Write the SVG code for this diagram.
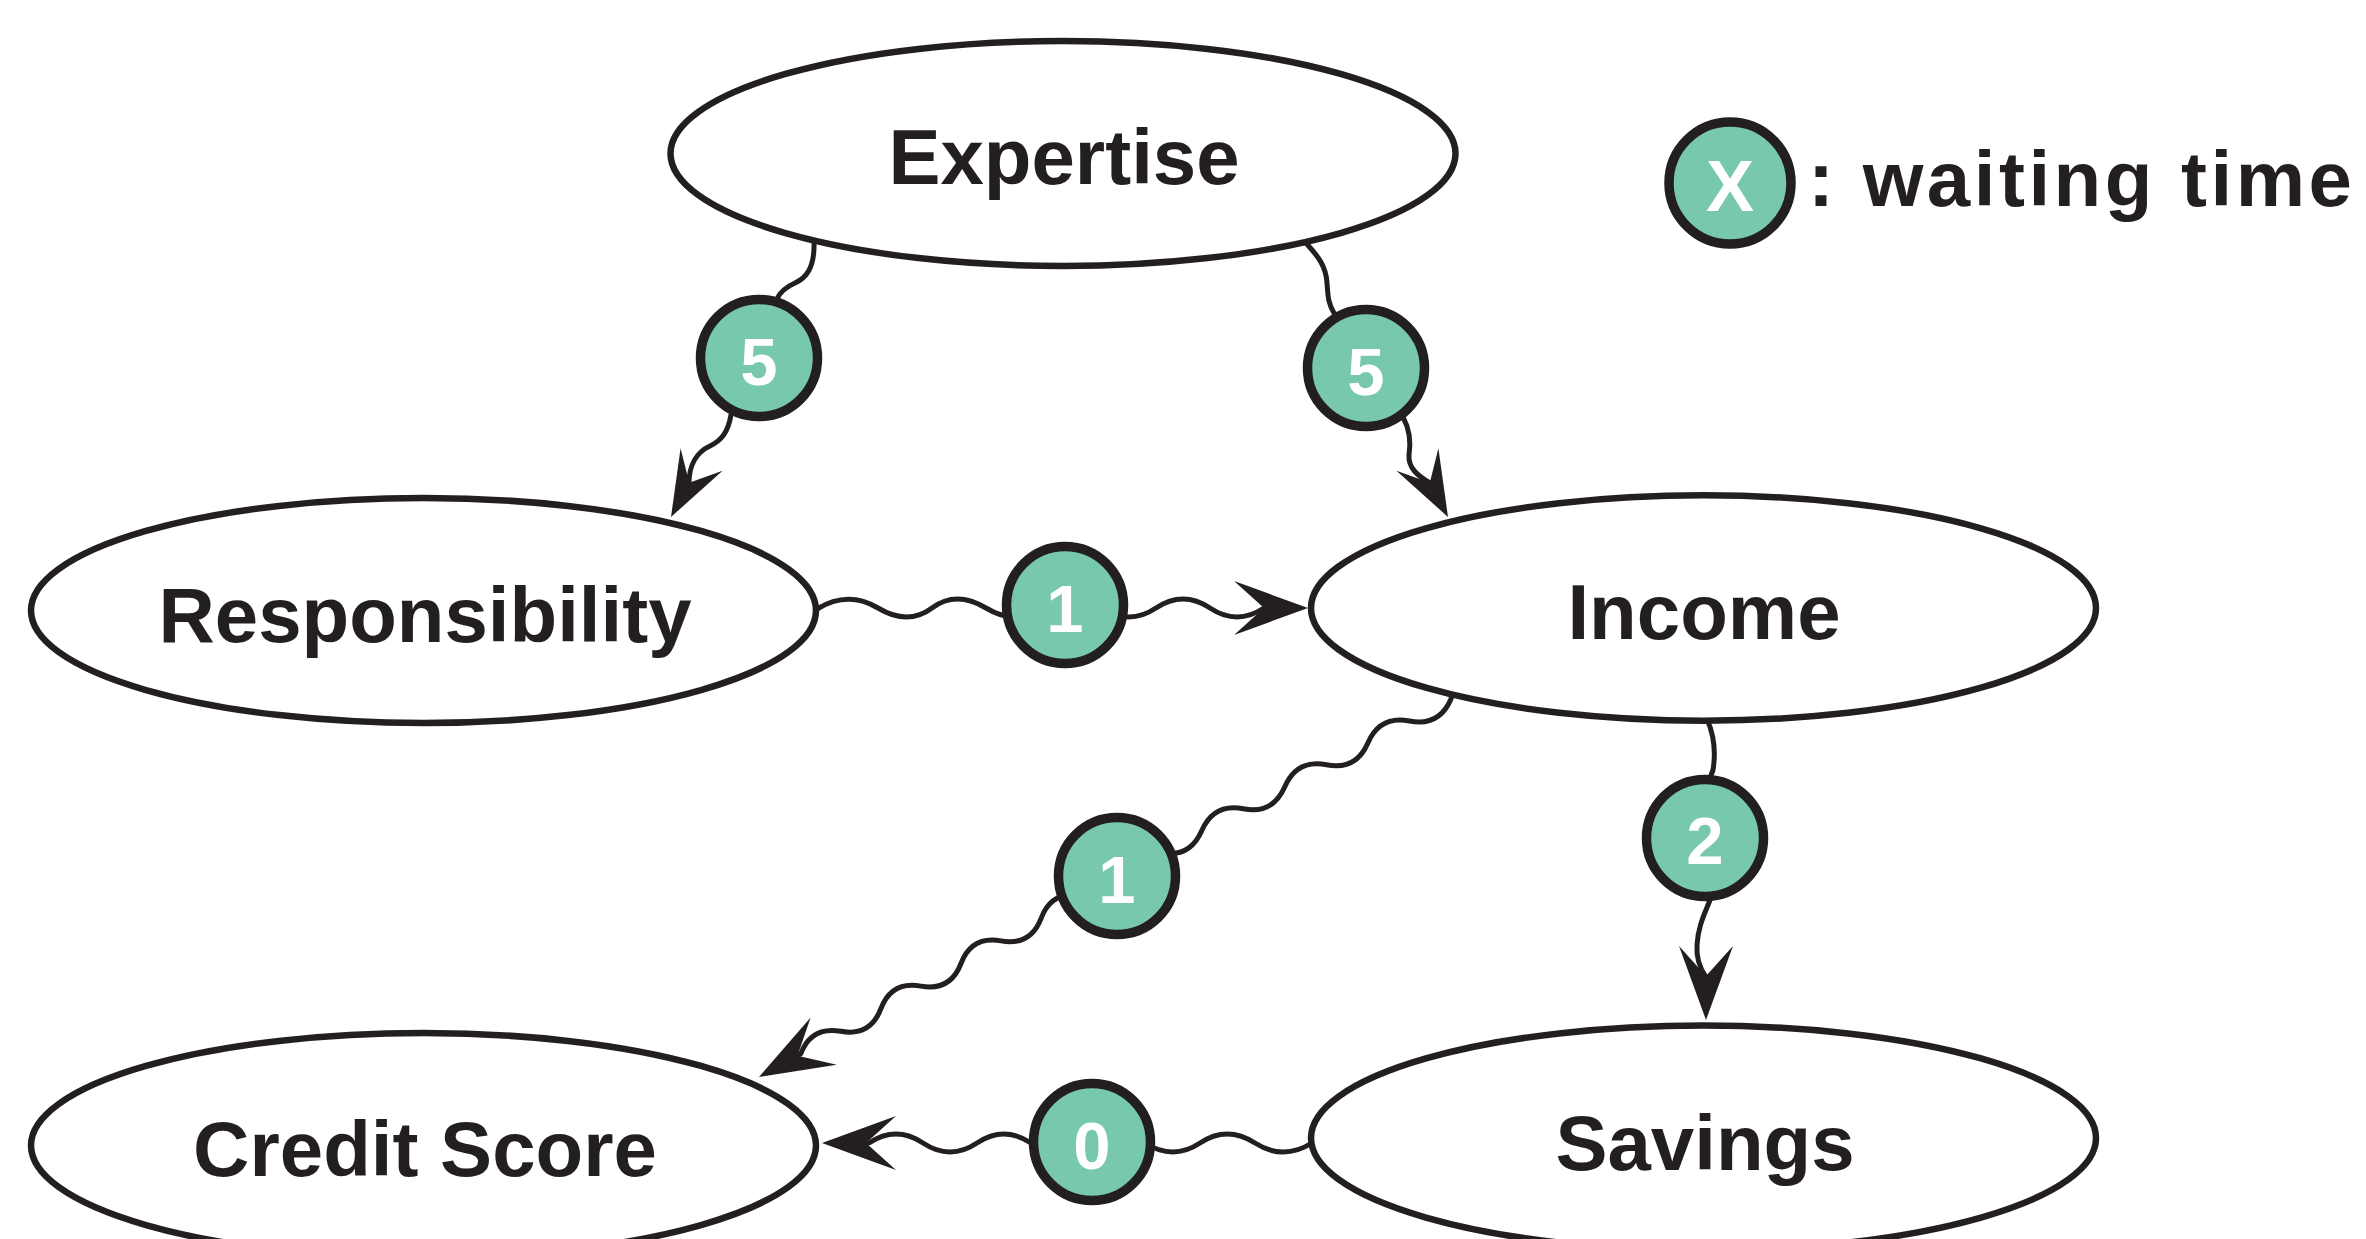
<svg xmlns="http://www.w3.org/2000/svg" xmlns:xlink="http://www.w3.org/1999/xlink" width="2366" height="1239" viewBox="0 0 2366 1239">
<style>
.node ellipse{fill:#ffffff;stroke:#231f20;stroke-width:6.5}
.lbl{font-family:"Liberation Sans",Arial,sans-serif;font-weight:bold;font-size:78px;fill:#231f20;text-anchor:middle}
.wt circle{fill:#77c8ae;stroke:#231f20;stroke-width:9.5}
.num{font-family:"Liberation Sans",Arial,sans-serif;font-weight:bold;font-size:67px;fill:#ffffff;text-anchor:middle}
.edge{fill:none;stroke:#231f20;stroke-width:5;stroke-linecap:round;stroke-linejoin:round}
.head{fill:#231f20}
</style>
<defs>
<path id="ah" d="M0 0 L-74 -27 L-44 0 L-74 27 Z"/>
</defs>
<rect width="2366" height="1239" fill="#ffffff"/>

<g id="connectors">
  <!-- Expertise -> 5 -> Responsibility -->
  <path class="edge" d="M814 241 C815 268 806 278 795 283 C786 287 780 292 777 299"/>
  <path class="edge" d="M731 415 C728 432 722 440 710 446 C697 452 689 465 689 483"/>
  <use href="#ah" class="head" transform="translate(671 517) rotate(118) scale(0.88)"/>
  <!-- Expertise -> 5 -> Income -->
  <path class="edge" d="M1305 242 C1318 256 1326 266 1327 283 C1328 296 1328 303 1334 313"/>
  <path class="edge" d="M1403 417 C1410 430 1411 442 1409 455 C1408 468 1418 476 1430 483"/>
  <use href="#ah" class="head" transform="translate(1448 517) rotate(62) scale(0.88)"/>
  <!-- Responsibility -> 1 -> Income -->
  <path class="edge" d="M817 609 Q848 590 878 608 T932 608 T986 608 T1040 608"/>
  <path class="edge" d="M1102 608 Q1129 626 1156 608 T1210 608 T1264 608"/>
  <use href="#ah" class="head" transform="translate(1308 608)"/>
  <!-- Income -> 2 -> Savings -->
  <path class="edge" d="M1707 719 C1714 735 1716 752 1713 770 L1710 778"/>
  <path class="edge" d="M1710 900 C1705 913 1698 926 1697 945 C1696 960 1701 970 1706 977"/>
  <use href="#ah" class="head" transform="translate(1706 1020) rotate(90)"/>
  <!-- Income -> 1 -> Credit Score -->
  <path class="edge" d="M1452 695 L1451 699 Q1439.1 726.8 1409.5 721 T1367.9 742.9 T1326.4 764.8 T1284.8 786.8 T1243.3 808.7 T1201.7 830.7 T1160.2 852.6 T1118.6 874.6"/>
  <path class="edge" d="M1081.2 895.7 Q1051.8 890.4 1041.1 918.3 T1001 940.9 T961 963.5 T920.9 986.1 T880.9 1008.7 T840.8 1031.3 T800.7 1053.9 L797 1056"/>
  <use href="#ah" class="head" transform="translate(759 1077) rotate(151)"/>
  <!-- Savings -> 0 -> Credit Score -->
  <path class="edge" d="M1312 1143 Q1283 1161 1255 1143 T1200 1143 T1145 1143"/>
  <path class="edge" d="M1031 1143 Q1004 1125 977 1143 T923 1143 T869 1143 L866 1143"/>
  <use href="#ah" class="head" transform="translate(822 1143) rotate(180)"/>
</g>

<g id="node-expertise" class="node">
  <ellipse cx="1063" cy="153.5" rx="392.5" ry="112.5"/>
  <text class="lbl" x="1064" y="184">Expertise</text>
</g>
<g id="node-responsibility" class="node">
  <ellipse cx="423.5" cy="610.5" rx="392.5" ry="112.5"/>
  <text class="lbl" x="425" y="642">Responsibility</text>
</g>
<g id="node-income" class="node">
  <ellipse cx="1703.5" cy="608" rx="392.5" ry="112.75"/>
  <text class="lbl" x="1704" y="639">Income</text>
</g>
<g id="node-credit-score" class="node">
  <ellipse cx="423.5" cy="1145.5" rx="392.5" ry="112.5"/>
  <text class="lbl" x="425" y="1176">Credit Score</text>
</g>
<g id="node-savings" class="node">
  <ellipse cx="1703.5" cy="1138" rx="392.5" ry="112.5"/>
  <text class="lbl" x="1705" y="1170">Savings</text>
</g>

<g id="wait-exp-resp" class="wt">
  <circle cx="759" cy="358" r="58.5"/>
  <text class="num" x="759" y="385">5</text>
</g>
<g id="wait-exp-inc" class="wt">
  <circle cx="1366" cy="368" r="58.5"/>
  <text class="num" x="1366" y="395">5</text>
</g>
<g id="wait-resp-inc" class="wt">
  <circle cx="1065" cy="605" r="58.5"/>
  <text class="num" x="1065" y="632">1</text>
</g>
<g id="wait-inc-credit" class="wt">
  <circle cx="1117" cy="876" r="58.5"/>
  <text class="num" x="1117" y="903">1</text>
</g>
<g id="wait-inc-sav" class="wt">
  <circle cx="1705" cy="838" r="58.5"/>
  <text class="num" x="1705" y="864">2</text>
</g>
<g id="wait-sav-credit" class="wt">
  <circle cx="1092" cy="1142" r="58.5"/>
  <text class="num" x="1092" y="1169">0</text>
</g>

<g id="legend" class="wt">
  <circle cx="1730" cy="183" r="61"/>
  <text class="num" x="1730" y="211" style="font-size:72px">X</text>
  <text class="lbl" x="1808" y="206" style="text-anchor:start" textLength="544" lengthAdjust="spacing">: waiting time</text>
</g>
</svg>
